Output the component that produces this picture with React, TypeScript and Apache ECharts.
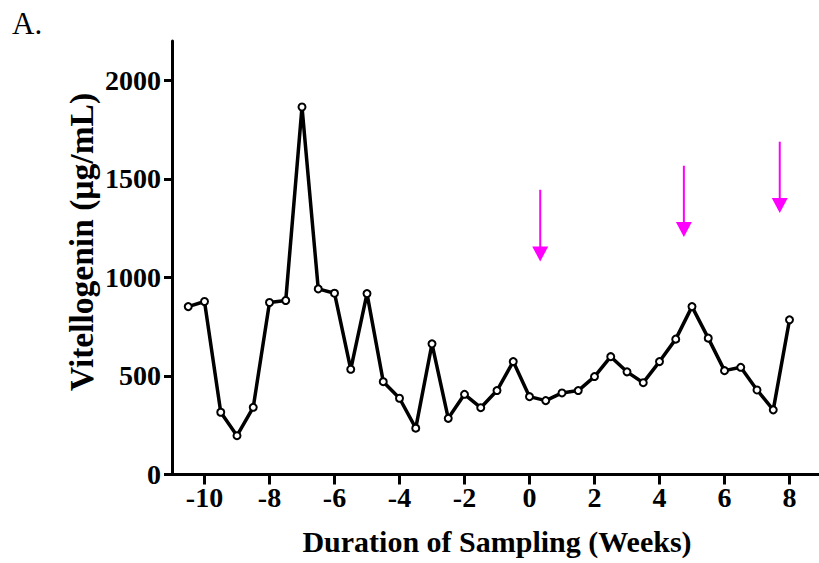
import React, { useEffect, useRef } from "react";
import * as echarts from "echarts";

const weeks = [
  -10.5, -10, -9.5, -9, -8.5, -8, -7.5, -7, -6.5, -6, -5.5, -5, -4.5, -4, -3.5, -3, -2.5, -2, -1.5, -1,
  -0.5, 0, 0.5, 1, 1.5, 2, 2.5, 3, 3.5, 4, 4.5, 5, 5.5, 6, 6.5, 7, 7.5, 8,
];
const vitellogenin = [
  852, 878, 316, 197, 341, 873, 883, 1865, 942, 920, 534, 918, 471, 387, 235, 663, 285, 407, 339, 426,
  573, 395, 375, 414, 426, 497, 598, 521, 466, 573, 687, 852, 692, 527, 544, 429, 328, 785,
];
const xTicks = [-10, -8, -6, -4, -2, 0, 2, 4, 6, 8];
const yTicks = [0, 500, 1000, 1500, 2000];
const arrowX = [0.33, 4.75, 7.7];
const arrowTop = [1445, 1567, 1689];
const arrowTip = [1081, 1205, 1327];

const FONT = "'Liberation Serif', 'Times New Roman', serif";

export default function App() {
  const ref = useRef<HTMLDivElement>(null);
  useEffect(() => {
    if (!ref.current) return;
    const chart = echarts.init(ref.current, undefined, { renderer: "svg" });
    const lineData = weeks.map((w, i) => [w, vitellogenin[i]]);
    const arrowData = arrowX.map((x, i) => [x, arrowTop[i], arrowTip[i]]);
    chart.setOption({
      animation: false,
      backgroundColor: "#ffffff",
      grid: {
        left: 172,
        right: -3,
        top: 41,
        bottom: 88.5,
        containLabel: false,
        outerBoundsMode: "none",
      },
      xAxis: {
        type: "value",
        min: -11,
        max: 9,
        name: "Duration of Sampling (Weeks)",
        nameLocation: "middle",
        nameGap: 52,
        nameTextStyle: { fontFamily: FONT, fontWeight: "bold", fontSize: 30, color: "#000" },
        axisLine: { show: true, onZero: false, lineStyle: { color: "#000", width: 3 } },
        axisTick: { show: true, length: 10, lineStyle: { color: "#000", width: 3 }, customValues: xTicks },
        axisLabel: {
          fontFamily: FONT,
          fontWeight: "bold",
          fontSize: 28,
          color: "#000",
          margin: 9,
          customValues: xTicks,
          formatter: (v: number) => String(v),
        },
        splitLine: { show: false },
      },
      yAxis: {
        type: "value",
        min: 0,
        max: 2200,
        axisLine: { show: true, onZero: false, lineStyle: { color: "#000", width: 3 } },
        axisTick: { show: true, length: 8, lineStyle: { color: "#000", width: 3 }, customValues: yTicks },
        axisLabel: {
          fontFamily: FONT,
          fontWeight: "bold",
          fontSize: 28,
          color: "#000",
          margin: 11,
          customValues: yTicks,
          formatter: (v: number) => String(v),
        },
        splitLine: { show: false },
      },
      graphic: [
        {
          type: "text",
          left: 12,
          top: 8,
          style: { text: "A.", fontFamily: FONT, fontSize: 31, fill: "#000" },
        },
        {
          type: "text",
          x: 81,
          y: 242,
          rotation: Math.PI / 2,
          style: {
            text: "Vitellogenin (µg/mL)",
            fontFamily: FONT,
            fontWeight: "bold",
            fontSize: 33.5,
            fill: "#000",
            align: "center",
            verticalAlign: "middle",
          },
        },
      ],
      series: [
        {
          type: "line",
          data: lineData,
          symbol: "circle",
          symbolSize: 7,
          showAllSymbol: true,
          lineStyle: { color: "#000", width: 3.5 },
          itemStyle: { color: "#fff", borderColor: "#000", borderWidth: 2 },
          z: 3,
        },
        {
          type: "custom",
          data: arrowData,
          silent: true,
          clip: false,
          z: 5,
          encode: { x: 0, y: 1 },
          renderItem: (params: any, api: any) => {
            const x = api.value(0);
            const top = api.value(1);
            const tip = api.value(2);
            const p1 = api.coord([x, top]);
            const p2 = api.coord([x, tip]);
            const head = 15;
            const hw = 8;
            return {
              type: "group",
              children: [
                {
                  type: "line",
                  shape: { x1: p1[0], y1: p1[1], x2: p2[0], y2: p2[1] - head + 1 },
                  style: { stroke: "#ff00ff", lineWidth: 2 },
                },
                {
                  type: "polygon",
                  shape: {
                    points: [
                      [p2[0] - hw, p2[1] - head],
                      [p2[0] + hw, p2[1] - head],
                      [p2[0], p2[1]],
                    ],
                  },
                  style: { fill: "#ff00ff" },
                },
              ],
            };
          },
        },
      ],
    });
    return () => chart.dispose();
  }, []);
  return (
    <div
      ref={ref}
      style={{ position: "fixed", left: 0, top: 0, width: 819, height: 563, background: "#fff" }}
    />
  );
}
